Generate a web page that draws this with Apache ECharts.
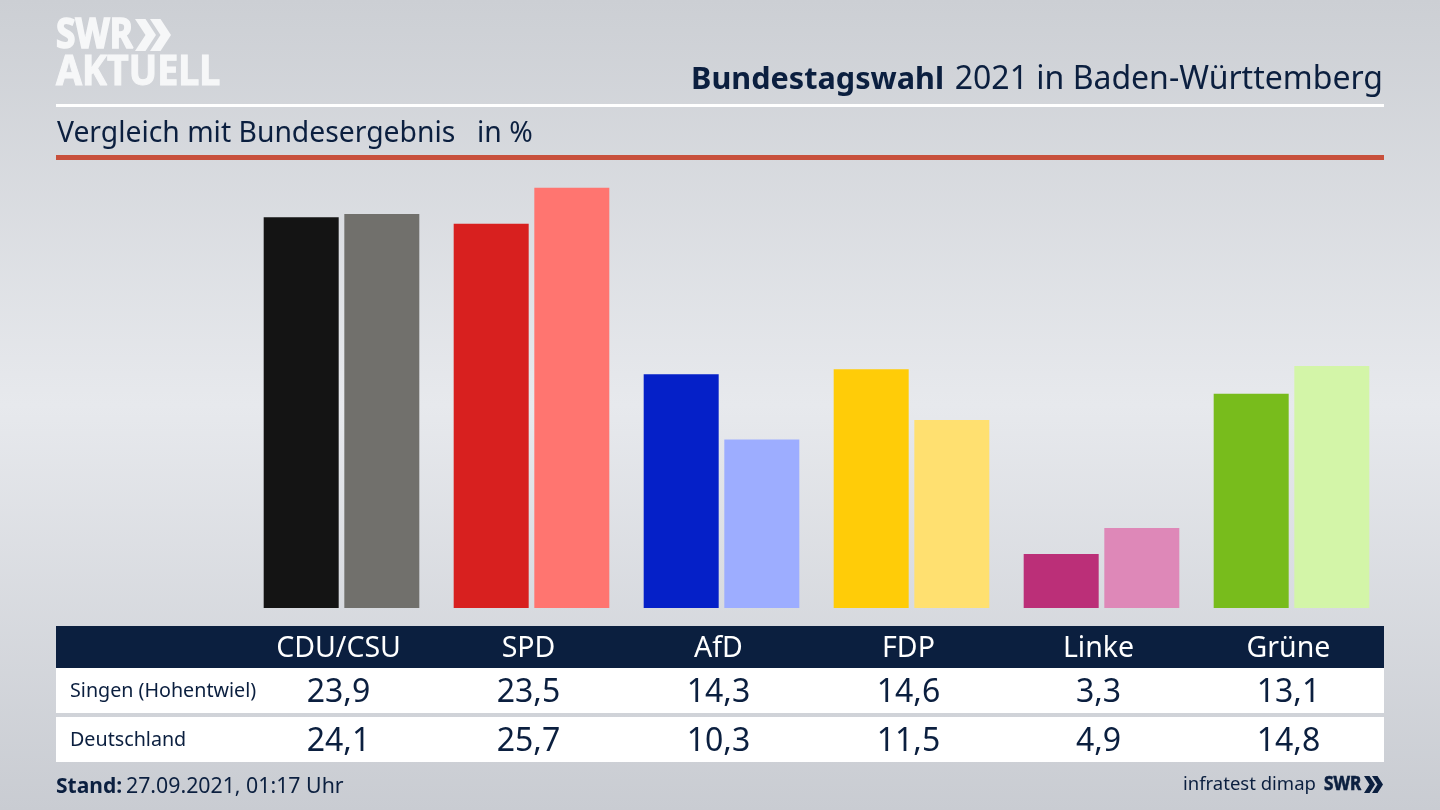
<!DOCTYPE html>
<html>
<head>
<meta charset="utf-8">
<title>Bundestagswahl 2021 in Baden-Württemberg</title>
<style>html,body{margin:0;padding:0;background:#d8dae0}#main{width:1440px;height:810px}</style>
<script src="https://cdn.jsdelivr.net/npm/echarts@6/dist/echarts.min.js"></script>
</head>
<body>
<div id="main"></div>
<script>
var parties = ['CDU/CSU', 'SPD', 'AfD', 'FDP', 'Linke', 'Grüne'];
var singen = [23.9, 23.5, 14.3, 14.6, 3.3, 13.1];
var deutschland = [24.1, 25.7, 10.3, 11.5, 4.9, 14.8];
var singenColors = ['#141414', '#d8201f', '#0520c8', '#ffcc08', '#bb2f78', '#78bc1c'];
var deutschlandColors = ['#71706c', '#ff7570', '#9dadff', '#ffe070', '#de88b8', '#d3f5a8'];
var rowNames = ['Singen (Hohentwiel)', 'Deutschland'];

var navy = '#0b1f3f';
var logoWhite = '#f6f7f8';
var font = '"Noto Sans", sans-serif';
var myChart = echarts.init(document.getElementById('main'));

function comma(v) {
  return v.toFixed(1).replace('.', ',');
}
function colored(values, colors) {
  return values.map(function (v, i) {
    return { value: v, itemStyle: { color: colors[i] } };
  });
}
function rect(x, y, w, h, fill) {
  return { type: 'rect', z: -1, shape: { x: x, y: y, width: w, height: h }, style: { fill: fill } };
}
function text(x, y, str, size, fill, align, weight) {
  return {
    type: 'text', x: x, y: y,
    style: { text: str, font: (weight || 'normal') + ' ' + size + 'px ' + font, fill: fill, align: align || 'left', verticalAlign: 'middle' }
  };
}
// logo text: stretched a little and thickened with a stroke
function logoText(x, y, str, size, fill, sx, sy, thick) {
  var t = text(x, y, str, size, fill, 'left', 'bold');
  t.scaleX = sx;
  t.scaleY = sy;
  t.style.stroke = fill;
  t.style.lineWidth = thick;
  return t;
}
function chevrons(x, y, w, h, step, fill) {
  return [0, step].map(function (dx) {
    return {
      type: 'polygon', z: 2,
      shape: { points: [[x + dx, y], [x + dx + w * 0.5, y], [x + dx + w, y + h / 2], [x + dx + w * 0.5, y + h], [x + dx, y + h], [x + dx + w * 0.5, y + h / 2]] },
      style: { fill: fill }
    };
  });
}

var graphics = [
  rect(56, 104, 1328, 3, '#ffffff'),
  rect(56, 155, 1328, 5, '#c8503c'),
  rect(56, 626, 1328, 42, navy),
  rect(56, 668, 1328, 45, '#ffffff'),
  rect(56, 717, 1328, 45, '#ffffff'),
  logoText(56, 37, 'SWR', 38, logoWhite, 0.93, 1.06, 1.5),
  logoText(56, 74, 'AKTUELL', 38, logoWhite, 0.99, 1.06, 1),
  text(1383, 80, '2021 in Baden-Württemberg', 32, navy, 'right'),
  text(944, 80, 'Bundestagswahl', 30.6, navy, 'right', 'bold'),
  text(57, 134, 'Vergleich mit Bundesergebnis', 28.3, navy),
  text(477, 134, 'in %', 28.3, navy),
  text(70, 691, rowNames[0], 19.7, navy),
  text(70, 740, rowNames[1], 19.7, navy),
  text(56, 787, 'Stand:', 21, navy, 'left', 'bold'),
  text(126, 787, '27.09.2021, 01:17 Uhr', 21.3, navy),
  text(1183, 785, 'infratest dimap', 18.5, navy),
  logoText(1324, 785, 'SWR', 18, navy, 0.95, 1.05, 0.6)
].concat(chevrons(135, 19, 21, 32, 15, logoWhite), chevrons(1364, 776, 11, 17, 8, navy));

parties.forEach(function (p, i) {
  var cx = 338.5 + i * 190;
  graphics.push(text(cx, 693, comma(singen[i]), 32, navy, 'center'));
  graphics.push(text(cx, 741.5, comma(deutschland[i]), 32, navy, 'center'));
});

var option = {
  animation: false,
  backgroundColor: new echarts.graphic.LinearGradient(0, 0, 0, 1, [
    { offset: 0, color: '#cccfd4' },
    { offset: 0.5, color: '#e7e9ed' },
    { offset: 1, color: '#c9ccd2' }
  ]),
  grid: { left: 246.5, top: 182.9, width: 1140, height: 425.1 },
  xAxis: {
    type: 'category',
    data: parties,
    axisLine: { show: false },
    axisTick: { show: false },
    axisLabel: { color: '#ffffff', fontFamily: font, fontSize: 28.5, margin: 26, padding: [0, 6, 0, 0] }
  },
  yAxis: { type: 'value', min: 0, max: 26, show: false },
  series: [
    { name: rowNames[0], type: 'bar', barWidth: 75, barGap: '7.5%', data: colored(singen, singenColors) },
    { name: rowNames[1], type: 'bar', barWidth: 75, barGap: '7.5%', data: colored(deutschland, deutschlandColors) }
  ],
  graphic: { elements: graphics }
};
myChart.setOption(option);
</script>
</body>
</html>
